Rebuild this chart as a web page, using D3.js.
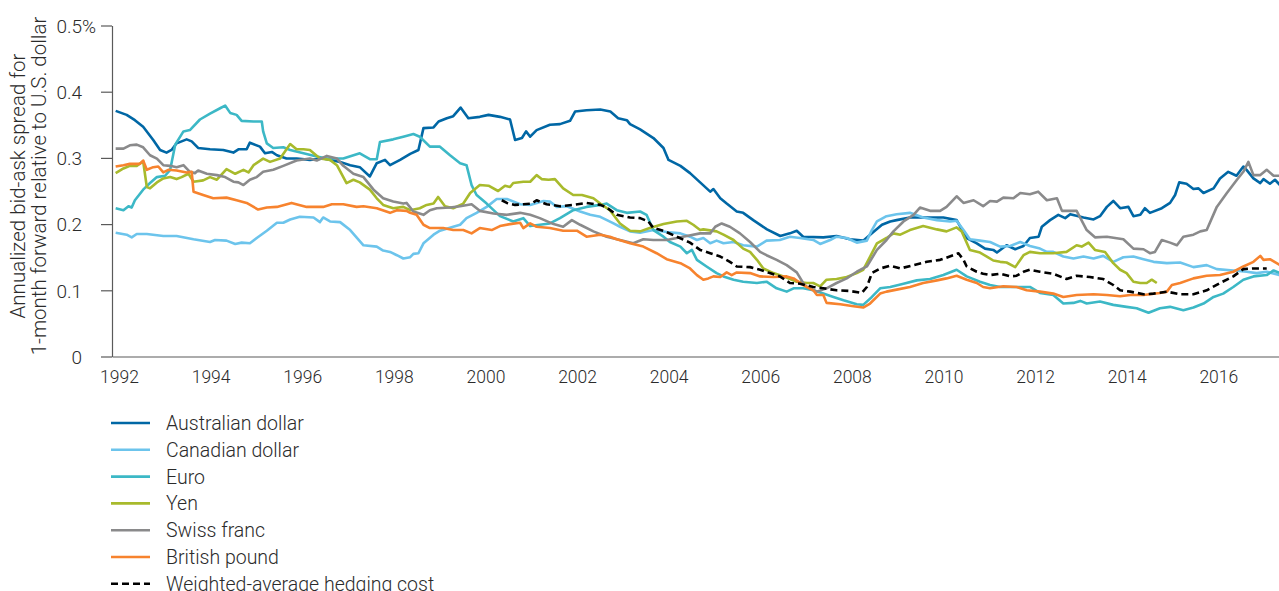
<!DOCTYPE html>
<html>
<head>
<meta charset="utf-8">
<script src="https://cdn.jsdelivr.net/npm/d3@7"></script>
<style>
  body { margin: 0; background: #fff; }
  svg { display: block; font-family: "Roboto", "Liberation Sans", sans-serif; font-weight: 300; }
  .axis text { fill: #2b2b2b; font-family: "Roboto", sans-serif; font-weight: 300; }
  .axis path, .axis line { stroke: #5a5a5a; stroke-width: 1.2; }
</style>
</head>
<body>
<script>
var width = 1279, height = 591;

// [year, spread in %]
var audData = [[1992.08,0.371],[1992.32,0.365],[1992.50,0.357],[1992.68,0.347],[1992.90,0.327],[1993.05,0.312],[1993.19,0.308],[1993.30,0.312],[1993.41,0.322],[1993.63,0.328],[1993.74,0.325],[1993.88,0.315],[1994.14,0.313],[1994.43,0.312],[1994.65,0.308],[1994.76,0.313],[1994.94,0.313],[1995.01,0.323],[1995.23,0.317],[1995.34,0.307],[1995.49,0.309],[1995.60,0.304],[1995.81,0.299],[1996.03,0.299],[1996.32,0.297],[1996.61,0.299],[1996.98,0.294],[1997.20,0.289],[1997.41,0.286],[1997.63,0.272],[1997.78,0.292],[1997.96,0.297],[1998.07,0.289],[1998.29,0.297],[1998.51,0.306],[1998.69,0.312],[1998.80,0.345],[1999.02,0.346],[1999.13,0.355],[1999.31,0.360],[1999.45,0.363],[1999.61,0.376],[1999.78,0.360],[2000.03,0.362],[2000.22,0.365],[2000.47,0.362],[2000.69,0.358],[2000.80,0.327],[2000.95,0.330],[2001.04,0.340],[2001.13,0.332],[2001.27,0.342],[2001.56,0.350],[2001.78,0.351],[2002.00,0.356],[2002.11,0.370],[2002.36,0.372],[2002.66,0.373],[2002.88,0.370],[2003.05,0.360],[2003.24,0.357],[2003.31,0.351],[2003.53,0.343],[2003.82,0.330],[2004.04,0.315],[2004.15,0.297],[2004.41,0.288],[2004.62,0.277],[2004.84,0.263],[2005.06,0.249],[2005.13,0.253],[2005.28,0.239],[2005.42,0.231],[2005.64,0.219],[2005.78,0.217],[2006.00,0.206],[2006.30,0.192],[2006.59,0.182],[2006.80,0.186],[2006.95,0.190],[2007.09,0.181],[2007.53,0.180],[2007.82,0.182],[2008.11,0.177],[2008.40,0.175],[2008.59,0.186],[2008.81,0.199],[2008.99,0.204],[2009.13,0.206],[2009.42,0.210],[2009.71,0.210],[2010.15,0.210],[2010.44,0.206],[2010.66,0.179],[2010.88,0.171],[2011.06,0.163],[2011.24,0.161],[2011.32,0.157],[2011.53,0.168],[2011.72,0.162],[2011.90,0.167],[2012.04,0.179],[2012.23,0.181],[2012.30,0.196],[2012.48,0.206],[2012.66,0.214],[2012.81,0.209],[2012.92,0.215],[2013.21,0.210],[2013.43,0.207],[2013.57,0.212],[2013.72,0.226],[2013.86,0.235],[2014.01,0.224],[2014.19,0.226],[2014.30,0.212],[2014.45,0.214],[2014.55,0.224],[2014.66,0.217],[2014.92,0.224],[2015.10,0.232],[2015.21,0.244],[2015.30,0.263],[2015.46,0.261],[2015.61,0.253],[2015.72,0.254],[2015.83,0.247],[2016.05,0.254],[2016.19,0.269],[2016.37,0.279],[2016.55,0.273],[2016.70,0.287],[2016.77,0.282],[2016.92,0.269],[2017.07,0.262],[2017.14,0.268],[2017.28,0.261],[2017.39,0.267],[2017.50,0.259]];

var cadData = [[1992.08,0.187],[1992.32,0.184],[1992.43,0.180],[1992.54,0.185],[1992.76,0.185],[1993.12,0.182],[1993.41,0.182],[1993.78,0.177],[1994.14,0.173],[1994.25,0.176],[1994.50,0.175],[1994.69,0.170],[1994.83,0.172],[1995.01,0.171],[1995.16,0.179],[1995.38,0.190],[1995.60,0.202],[1995.74,0.202],[1995.89,0.207],[1996.10,0.211],[1996.40,0.210],[1996.54,0.203],[1996.61,0.210],[1996.76,0.204],[1996.98,0.203],[1997.20,0.191],[1997.49,0.168],[1997.78,0.166],[1997.92,0.160],[1998.07,0.158],[1998.22,0.153],[1998.36,0.148],[1998.51,0.150],[1998.58,0.155],[1998.69,0.156],[1998.80,0.171],[1999.02,0.184],[1999.16,0.190],[1999.45,0.196],[1999.60,0.199],[1999.74,0.209],[1999.96,0.217],[2000.18,0.226],[2000.40,0.238],[2000.62,0.238],[2000.91,0.230],[2001.13,0.229],[2001.42,0.235],[2001.56,0.234],[2001.71,0.226],[2001.93,0.227],[2002.22,0.219],[2002.44,0.214],[2002.66,0.211],[2002.95,0.201],[2003.09,0.196],[2003.31,0.189],[2003.53,0.187],[2003.82,0.191],[2004.11,0.188],[2004.41,0.186],[2004.62,0.181],[2004.77,0.176],[2004.91,0.179],[2005.06,0.171],[2005.20,0.175],[2005.35,0.171],[2005.57,0.173],[2005.78,0.168],[2006.08,0.166],[2006.29,0.175],[2006.58,0.176],[2006.80,0.181],[2007.02,0.179],[2007.31,0.176],[2007.46,0.170],[2007.68,0.176],[2007.82,0.181],[2008.04,0.179],[2008.26,0.172],[2008.48,0.175],[2008.59,0.191],[2008.70,0.204],[2008.91,0.212],[2009.13,0.215],[2009.42,0.217],[2009.71,0.210],[2010.01,0.206],[2010.30,0.204],[2010.44,0.205],[2010.59,0.191],[2010.73,0.177],[2010.95,0.175],[2011.17,0.173],[2011.39,0.166],[2011.61,0.167],[2011.83,0.173],[2012.04,0.167],[2012.26,0.163],[2012.41,0.158],[2012.55,0.158],[2012.77,0.151],[2012.99,0.148],[2013.21,0.151],[2013.43,0.148],[2013.64,0.152],[2013.86,0.143],[2014.08,0.150],[2014.30,0.151],[2014.52,0.147],[2014.74,0.143],[2015.03,0.141],[2015.32,0.142],[2015.61,0.135],[2015.90,0.138],[2016.12,0.132],[2016.48,0.130],[2016.77,0.128],[2016.99,0.126],[2017.21,0.128],[2017.50,0.123]];

var euroData = [[1992.08,0.224],[1992.25,0.221],[1992.36,0.227],[1992.43,0.225],[1992.50,0.236],[1992.68,0.252],[1992.83,0.262],[1992.98,0.271],[1993.16,0.273],[1993.27,0.282],[1993.38,0.320],[1993.56,0.340],[1993.70,0.342],[1993.92,0.358],[1994.14,0.367],[1994.36,0.375],[1994.47,0.379],[1994.58,0.368],[1994.72,0.365],[1994.83,0.356],[1995.09,0.355],[1995.27,0.355],[1995.30,0.340],[1995.38,0.322],[1995.52,0.315],[1995.74,0.316],[1995.89,0.312],[1996.18,0.307],[1996.47,0.302],[1996.69,0.299],[1997.05,0.299],[1997.41,0.307],[1997.63,0.298],[1997.78,0.298],[1997.85,0.324],[1998.14,0.328],[1998.36,0.332],[1998.58,0.336],[1998.72,0.332],[1998.94,0.317],[1999.16,0.317],[1999.38,0.304],[1999.60,0.292],[1999.74,0.289],[1999.85,0.259],[1999.96,0.244],[2000.18,0.231],[2000.47,0.212],[2000.76,0.204],[2000.98,0.209],[2001.13,0.197],[2001.34,0.199],[2001.56,0.201],[2001.78,0.209],[2002.07,0.221],[2002.36,0.226],[2002.66,0.229],[2002.80,0.231],[2003.02,0.221],[2003.24,0.217],[2003.53,0.219],[2003.67,0.214],[2003.82,0.191],[2004.04,0.181],[2004.18,0.173],[2004.41,0.166],[2004.55,0.156],[2004.66,0.161],[2004.77,0.146],[2004.98,0.136],[2005.20,0.126],[2005.35,0.121],[2005.57,0.116],[2005.78,0.113],[2006.08,0.111],[2006.29,0.113],[2006.51,0.103],[2006.73,0.098],[2006.88,0.103],[2007.09,0.103],[2007.31,0.100],[2007.53,0.095],[2007.75,0.090],[2007.97,0.085],[2008.26,0.079],[2008.40,0.078],[2008.59,0.090],[2008.77,0.103],[2008.99,0.105],[2009.28,0.110],[2009.57,0.115],[2009.86,0.117],[2010.15,0.123],[2010.44,0.131],[2010.66,0.121],[2010.95,0.113],[2011.17,0.108],[2011.39,0.105],[2011.61,0.105],[2012.04,0.105],[2012.26,0.096],[2012.55,0.093],[2012.77,0.080],[2012.99,0.081],[2013.14,0.084],[2013.28,0.080],[2013.57,0.083],[2013.86,0.078],[2014.15,0.075],[2014.37,0.073],[2014.63,0.066],[2014.88,0.073],[2015.10,0.075],[2015.39,0.070],[2015.61,0.074],[2015.83,0.080],[2016.05,0.090],[2016.26,0.095],[2016.48,0.105],[2016.70,0.116],[2016.92,0.121],[2017.21,0.123],[2017.36,0.130],[2017.50,0.126]];

var yenData = [[1992.08,0.277],[1992.25,0.284],[1992.39,0.288],[1992.54,0.288],[1992.68,0.295],[1992.76,0.256],[1992.83,0.254],[1992.98,0.263],[1993.12,0.269],[1993.27,0.271],[1993.41,0.268],[1993.52,0.271],[1993.67,0.276],[1993.78,0.264],[1993.99,0.266],[1994.14,0.271],[1994.29,0.267],[1994.50,0.283],[1994.69,0.276],[1994.87,0.282],[1994.98,0.278],[1995.09,0.289],[1995.30,0.299],[1995.45,0.294],[1995.67,0.299],[1995.89,0.321],[1996.03,0.313],[1996.18,0.313],[1996.32,0.312],[1996.54,0.299],[1996.76,0.297],[1996.91,0.289],[1997.12,0.262],[1997.27,0.267],[1997.41,0.263],[1997.63,0.252],[1997.78,0.239],[1997.92,0.229],[1998.14,0.224],[1998.36,0.226],[1998.51,0.221],[1998.72,0.224],[1998.87,0.229],[1999.02,0.231],[1999.12,0.241],[1999.27,0.227],[1999.45,0.224],[1999.67,0.231],[1999.82,0.247],[2000.03,0.259],[2000.22,0.258],[2000.43,0.250],[2000.58,0.258],[2000.69,0.256],[2000.76,0.262],[2000.98,0.264],[2001.13,0.264],[2001.27,0.274],[2001.38,0.268],[2001.53,0.267],[2001.67,0.268],[2001.85,0.254],[2002.07,0.244],[2002.26,0.244],[2002.51,0.239],[2002.66,0.231],[2002.87,0.221],[2003.09,0.201],[2003.31,0.190],[2003.53,0.189],[2003.74,0.194],[2004.04,0.200],[2004.33,0.204],[2004.55,0.205],[2004.69,0.199],[2004.84,0.191],[2004.91,0.192],[2005.20,0.189],[2005.35,0.184],[2005.57,0.176],[2005.78,0.163],[2005.93,0.158],[2006.08,0.146],[2006.22,0.133],[2006.44,0.126],[2006.66,0.121],[2006.95,0.113],[2007.17,0.111],[2007.31,0.111],[2007.46,0.106],[2007.60,0.116],[2007.82,0.117],[2008.04,0.120],[2008.26,0.126],[2008.40,0.131],[2008.59,0.156],[2008.70,0.171],[2008.91,0.179],[2009.06,0.186],[2009.21,0.184],[2009.42,0.191],[2009.71,0.197],[2010.01,0.192],[2010.22,0.189],[2010.44,0.195],[2010.55,0.189],[2010.73,0.161],[2010.95,0.157],[2011.10,0.151],[2011.24,0.145],[2011.39,0.143],[2011.53,0.142],[2011.72,0.135],[2011.90,0.153],[2012.04,0.158],[2012.26,0.156],[2012.55,0.156],[2012.84,0.158],[2013.06,0.168],[2013.17,0.166],[2013.32,0.172],[2013.46,0.161],[2013.68,0.158],[2013.86,0.141],[2014.01,0.131],[2014.15,0.126],[2014.30,0.113],[2014.45,0.111],[2014.59,0.111],[2014.70,0.116],[2014.81,0.111]];

var chfData = [[1992.08,0.314],[1992.25,0.314],[1992.39,0.319],[1992.54,0.320],[1992.68,0.316],[1992.83,0.304],[1992.98,0.299],[1993.12,0.289],[1993.27,0.288],[1993.41,0.286],[1993.56,0.289],[1993.70,0.279],[1993.81,0.277],[1993.88,0.281],[1994.07,0.276],[1994.29,0.274],[1994.47,0.271],[1994.65,0.264],[1994.76,0.263],[1994.87,0.259],[1995.01,0.267],[1995.16,0.271],[1995.30,0.279],[1995.52,0.282],[1995.74,0.288],[1996.03,0.296],[1996.32,0.299],[1996.47,0.296],[1996.69,0.303],[1996.91,0.299],[1997.05,0.288],[1997.27,0.276],[1997.49,0.271],[1997.71,0.252],[1997.92,0.239],[1998.14,0.234],[1998.36,0.231],[1998.43,0.232],[1998.58,0.219],[1998.80,0.214],[1998.94,0.221],[1999.09,0.224],[1999.38,0.225],[1999.60,0.227],[1999.85,0.230],[2000.03,0.220],[2000.33,0.216],[2000.62,0.214],[2000.91,0.217],[2001.13,0.214],[2001.34,0.209],[2001.64,0.200],[2001.85,0.196],[2002.04,0.206],[2002.22,0.199],[2002.51,0.189],[2002.80,0.181],[2003.09,0.176],[2003.38,0.171],[2003.60,0.177],[2003.82,0.176],[2004.11,0.176],[2004.33,0.179],[2004.55,0.182],[2004.84,0.186],[2005.06,0.186],[2005.17,0.196],[2005.31,0.201],[2005.49,0.196],[2005.71,0.186],[2005.93,0.173],[2006.15,0.158],[2006.29,0.153],[2006.51,0.146],[2006.73,0.138],[2006.95,0.127],[2007.09,0.111],[2007.17,0.105],[2007.39,0.098],[2007.60,0.103],[2007.82,0.111],[2008.04,0.118],[2008.26,0.128],[2008.48,0.136],[2008.70,0.161],[2008.91,0.176],[2009.06,0.189],[2009.28,0.204],[2009.50,0.214],[2009.64,0.225],[2009.86,0.220],[2010.08,0.220],[2010.22,0.226],[2010.44,0.242],[2010.59,0.232],[2010.81,0.236],[2011.02,0.227],[2011.17,0.235],[2011.32,0.234],[2011.46,0.240],[2011.68,0.239],[2011.83,0.247],[2012.04,0.245],[2012.22,0.249],[2012.41,0.236],[2012.63,0.239],[2012.74,0.220],[2013.06,0.220],[2013.28,0.191],[2013.46,0.180],[2013.72,0.181],[2014.08,0.177],[2014.30,0.163],[2014.52,0.162],[2014.66,0.156],[2014.77,0.158],[2014.92,0.176],[2015.10,0.172],[2015.25,0.168],[2015.39,0.181],[2015.61,0.184],[2015.76,0.189],[2015.90,0.191],[2016.12,0.226],[2016.34,0.247],[2016.56,0.267],[2016.70,0.279],[2016.81,0.294],[2016.92,0.274],[2017.07,0.274],[2017.21,0.282],[2017.36,0.273],[2017.50,0.273]];

var gbpData = [[1992.08,0.287],[1992.25,0.289],[1992.39,0.291],[1992.61,0.291],[1992.68,0.296],[1992.76,0.282],[1992.90,0.286],[1993.01,0.287],[1993.12,0.278],[1993.23,0.282],[1993.41,0.281],[1993.63,0.278],[1993.74,0.279],[1993.78,0.249],[1993.99,0.244],[1994.21,0.239],[1994.50,0.240],[1994.72,0.236],[1994.94,0.232],[1995.19,0.222],[1995.38,0.225],[1995.60,0.226],[1995.92,0.232],[1996.25,0.226],[1996.61,0.226],[1996.80,0.230],[1997.05,0.230],[1997.34,0.226],[1997.49,0.227],[1997.78,0.224],[1998.07,0.217],[1998.22,0.221],[1998.43,0.220],[1998.51,0.217],[1998.65,0.214],[1998.80,0.199],[1998.94,0.194],[1999.23,0.194],[1999.45,0.191],[1999.67,0.191],[1999.85,0.186],[2000.03,0.194],[2000.29,0.191],[2000.47,0.197],[2000.69,0.200],[2000.91,0.202],[2000.98,0.194],[2001.13,0.201],[2001.27,0.196],[2001.56,0.194],[2001.85,0.190],[2002.15,0.190],[2002.36,0.181],[2002.66,0.184],[2002.87,0.181],[2003.02,0.177],[2003.31,0.171],[2003.60,0.166],[2003.89,0.156],[2004.11,0.147],[2004.41,0.141],[2004.62,0.133],[2004.77,0.123],[2004.91,0.116],[2005.02,0.118],[2005.13,0.121],[2005.28,0.120],[2005.42,0.127],[2005.53,0.123],[2005.64,0.127],[2005.93,0.126],[2006.15,0.121],[2006.44,0.120],[2006.73,0.121],[2006.88,0.118],[2007.09,0.108],[2007.31,0.100],[2007.39,0.093],[2007.53,0.093],[2007.60,0.081],[2007.90,0.079],[2008.19,0.076],[2008.40,0.074],[2008.55,0.080],[2008.77,0.095],[2008.91,0.098],[2009.13,0.101],[2009.42,0.105],[2009.71,0.111],[2010.01,0.115],[2010.22,0.118],[2010.44,0.122],[2010.66,0.116],[2010.88,0.111],[2011.02,0.105],[2011.17,0.103],[2011.46,0.106],[2011.75,0.105],[2011.97,0.100],[2012.26,0.098],[2012.55,0.095],[2012.77,0.090],[2013.06,0.093],[2013.43,0.094],[2013.72,0.093],[2014.01,0.091],[2014.23,0.093],[2014.52,0.093],[2014.88,0.096],[2015.03,0.098],[2015.14,0.108],[2015.32,0.111],[2015.61,0.118],[2015.90,0.122],[2016.19,0.123],[2016.48,0.128],[2016.70,0.136],[2016.92,0.143],[2017.07,0.152],[2017.14,0.146],[2017.28,0.147],[2017.50,0.138]];

var weightedData = [[2000.51,0.236],[2000.62,0.232],[2000.80,0.229],[2000.98,0.230],[2001.16,0.231],[2001.27,0.236],[2001.49,0.230],[2001.78,0.227],[2002.07,0.229],[2002.36,0.232],[2002.66,0.229],[2002.80,0.225],[2003.02,0.214],[2003.31,0.210],[2003.53,0.209],[2003.71,0.204],[2003.82,0.194],[2004.04,0.190],[2004.33,0.181],[2004.62,0.172],[2004.84,0.161],[2005.06,0.156],[2005.28,0.151],[2005.49,0.143],[2005.64,0.136],[2005.93,0.135],[2006.15,0.131],[2006.36,0.126],[2006.58,0.121],[2006.80,0.111],[2007.02,0.110],[2007.31,0.105],[2007.53,0.103],[2007.82,0.100],[2008.11,0.099],[2008.37,0.096],[2008.48,0.105],[2008.59,0.126],[2008.77,0.133],[2008.99,0.137],[2009.21,0.133],[2009.50,0.138],[2009.79,0.143],[2010.08,0.146],[2010.37,0.153],[2010.48,0.156],[2010.59,0.146],[2010.66,0.136],[2010.88,0.128],[2011.02,0.125],[2011.17,0.123],[2011.39,0.125],[2011.61,0.121],[2011.75,0.122],[2011.90,0.128],[2012.04,0.131],[2012.26,0.128],[2012.55,0.125],[2012.84,0.117],[2013.06,0.122],[2013.35,0.120],[2013.64,0.117],[2013.86,0.108],[2014.01,0.100],[2014.23,0.098],[2014.52,0.094],[2014.74,0.095],[2015.03,0.098],[2015.32,0.094],[2015.61,0.094],[2015.90,0.100],[2016.19,0.111],[2016.48,0.121],[2016.70,0.132],[2016.92,0.133],[2017.21,0.133]];

var seriesNames = ["Australian dollar", "Canadian dollar", "Euro", "Yen", "Swiss franc", "British pound", "Weighted-average hedging cost"];
var seriesColors = ["#0067a5", "#6cc4ec", "#3cb8c6", "#a8ba2c", "#8a8a8b", "#f7832e", "#000000"];
var seriesData = [audData, cadData, euroData, yenData, chfData, gbpData, weightedData];

var yearTicks = [1992, 1994, 1996, 1998, 2000, 2002, 2004, 2006, 2008, 2010, 2012, 2014, 2016];
var valueTicks = [0, 0.1, 0.2, 0.3, 0.4, 0.5];

var series = seriesNames.map((name, i) => ({
    name: name,
    color: seriesColors[i],
    dashed: i == 6,
    values: seriesData[i]
}));

var x = d3.scaleLinear().domain([1992, 2017.5]).range([112, 1280]);
var y = d3.scaleLinear().domain([0, 0.5]).range([356.5, 25.5]);

var svg = d3.select("body").append("svg")
    .attr("width", width)
    .attr("height", height);

svg.append("defs").append("clipPath")
    .attr("id", "plot")
  .append("rect")
    .attr("x", 112).attr("y", 0)
    .attr("width", width - 112).attr("height", 360);

// y axis
var yAxis = svg.append("g")
    .attr("class", "axis")
    .attr("transform", "translate(112,0)")
    .call(d3.axisLeft(y).tickValues(valueTicks).tickSize(11).tickSizeOuter(0).tickPadding(19)
        .tickFormat(d => d == 0 ? "0" : d3.format(".1f")(d)))
yAxis.selectAll(".tick text").attr("dy", "0.36em").style("font-size", "19px");
// the % sign hangs off the top label
yAxis.select(".tick:last-of-type").append("text")
    .attr("x", -30)
    .attr("dy", "0.36em")
    .attr("text-anchor", "start")
    .style("font-size", "19px")
    .text("%");

// x axis
var xAxis = svg.append("g")
    .attr("class", "axis")
    .attr("transform", "translate(0,356.5)")
    .call(d3.axisBottom(x).tickValues(yearTicks).tickSize(0).tickSizeOuter(0).tickPadding(14)
        .tickFormat(d3.format("d")))
xAxis.selectAll(".tick text").attr("dx", 7).style("font-size", "17.5px");

// axis title
var title = svg.append("text")
    .attr("transform", "translate(0,186) rotate(-90)")
    .attr("text-anchor", "middle")
    .style("font-size", "20.5px")
    .style("fill", "#2b2b2b")
title.append("tspan").attr("x", 0).attr("y", 25).text("Annualized bid-ask spread for");
title.append("tspan").attr("x", 0).attr("y", 46).text("1-month forward relative to U.S. dollar");

var line = d3.line()
    .x(d => x(d[0]))
    .y(d => y(d[1]));

svg.append("g")
    .attr("clip-path", "url(#plot)")
  .selectAll("path")
  .data(series)
  .join("path")
    .attr("fill", "none")
    .attr("stroke", d => d.color)
    .attr("stroke-width", 2.6)
    .attr("stroke-linejoin", "round")
    .attr("stroke-dasharray", d => d.dashed ? "7,4" : null)
    .attr("d", d => line(d.values));

// legend
var legend = svg.append("g")
  .selectAll("g")
  .data(series)
  .join("g")
    .attr("transform", (d, i) => `translate(111,${423 + i * 26.8})`);

legend.append("line")
    .attr("x1", 0).attr("x2", 39)
    .attr("stroke", d => d.color)
    .attr("stroke-width", 2.6)
    .attr("stroke-dasharray", d => d.dashed ? "7,4" : null);

legend.append("text")
    .attr("x", 55)
    .attr("dy", "0.36em")
    .style("font-size", "19.5px")
    .style("fill", "#2b2b2b")
    .text(d => d.name);
</script>
</body>
</html>
